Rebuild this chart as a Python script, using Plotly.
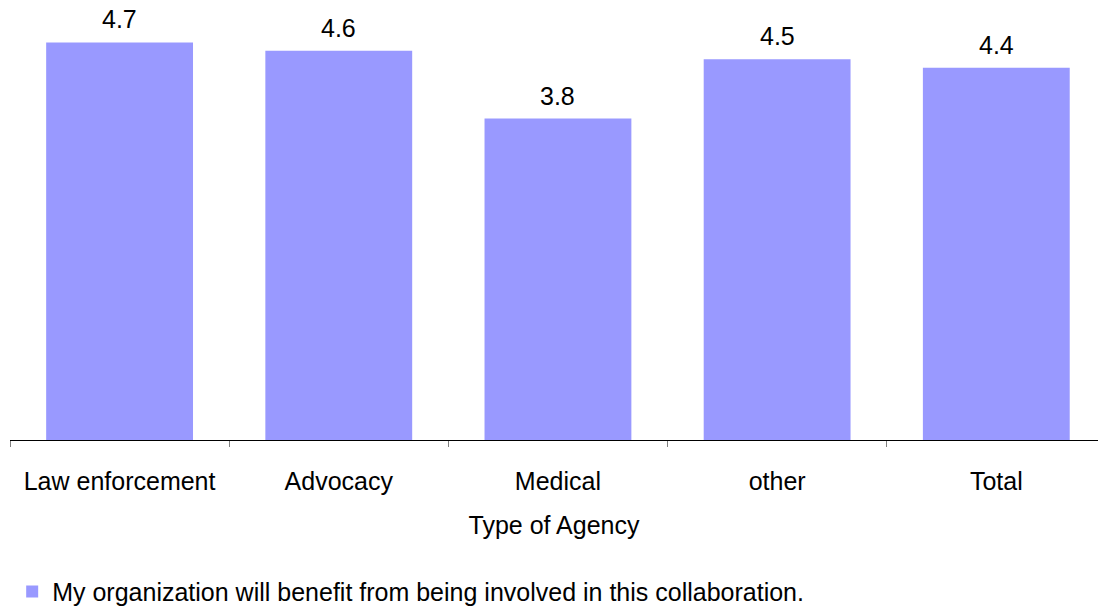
import plotly.graph_objects as go

categories = ["Law enforcement", "Advocacy", "Medical", "other", "Total"]
values = [4.7, 4.6, 3.8, 4.5, 4.4]
series_name = "My organization will benefit from being involved in this collaboration."

FONT = "Liberation Sans, Arial, sans-serif"
FS = 25

fig = go.Figure()
fig.add_trace(go.Bar(
    x=categories,
    y=values,
    name=series_name,
    marker=dict(color="#9999FF", line=dict(width=0)),
    width=0.67,
    showlegend=True,
))

# value labels above each bar
for cat, val in zip(categories, values):
    fig.add_annotation(
        x=cat, y=val, xref="x", yref="y",
        text=f"{val:.1f}",
        showarrow=False,
        yanchor="bottom",
        yshift=7,
        font=dict(family=FONT, size=FS, color="#000000"),
    )

fig.update_layout(
    width=1098,
    height=608,
    margin=dict(l=10, r=0, t=17, b=168, autoexpand=False),
    paper_bgcolor="white",
    plot_bgcolor="white",
    font=dict(family=FONT, size=FS, color="#000000"),
    xaxis=dict(
        type="category",
        range=[-0.5, 4.464],
        showline=True,
        linecolor="#000000",
        linewidth=1,
        ticks="outside",
        tickson="boundaries",
        ticklen=6,
        tickcolor="#808080",
        tickfont=dict(size=FS),
        ticklabelstandoff=19,
        title=dict(text="Type of Agency", font=dict(size=FS), standoff=22),
        showgrid=False,
    ),
    yaxis=dict(
        range=[0, 5],
        visible=False,
        showgrid=False,
        zeroline=False,
    ),
    legend=dict(
        orientation="h",
        x=0.002,
        xanchor="left",
        y=-0.359,
        yanchor="middle",
        font=dict(size=FS),
    ),
    bargap=0.33,
)

fig.write_html("out.html")
